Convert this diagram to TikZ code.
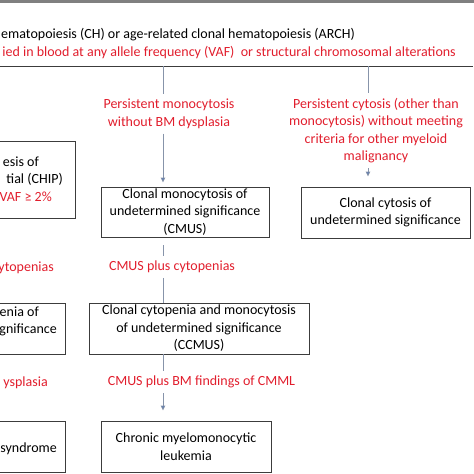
\documentclass[tikz,border=0pt]{standalone}
\usepackage{fontspec}
\setmainfont{Carlito}
\usetikzlibrary{arrows.meta}
\definecolor{redtxt}{RGB}{225,30,45}
\definecolor{boxline}{RGB}{60,60,60}
\definecolor{connline}{RGB}{135,148,170}
\definecolor{arrowblue}{RGB}{70,110,180}
\definecolor{bandgray}{RGB}{128,128,128}
\begin{document}
\begin{tikzpicture}[x=1pt,y=-1pt, font=\fontsize{14}{17.5}\selectfont,
  box/.style={draw=boxline, line width=0.9pt, align=center, inner sep=0pt},
  redlbl/.style={text=redtxt, align=center, inner sep=0pt, outer sep=5pt},
  frag/.style={anchor=base east, inner sep=0pt},
  conn/.style={draw=connline, line width=0.9pt},
  arr/.style={conn, -{Triangle[width=4.5pt,length=5pt,fill=arrowblue]}}]
\useasboundingbox (0,0) rectangle (474,474);
\clip (0,0) rectangle (474,474);
\fill[bandgray] (0,0) rectangle (474,2.5);
% header texts
\node[frag] (t1) at (355,38) {ematopoiesis (CH) or age-related clonal hematopoiesis (ARCH)};
\node[frag, text=redtxt] (t2) at (456,56) {ied in blood at any allele frequency (VAF)\ \ or structural chromosomal alterations};
\coordinate (hl) at (0,66);
\coordinate (hr) at (473,66);
\draw[draw=boxline, line width=0.9pt] (hl) -- (hr);
\coordinate (v1) at (163,66);
\coordinate (v2) at (368,66);
% red labels
\node[redlbl] (l1) at (169,114) {Persistent monocytosis\\without BM dysplasia};
\node[redlbl] (l2) at (376,130.5) {Persistent cytosis (other than\\monocytosis) without meeting\\criteria for other myeloid\\malignancy};
\node[redlbl] (l3) at (172,267) {CMUS plus cytopenias};
\node[redlbl] (l4) at (201.5,382) {CMUS plus BM findings of CMML};
% boxes
\node[box, minimum width=168pt, minimum height=50pt] (cmus) at (185,212) {Clonal monocytosis of\\undetermined significance\\(CMUS)};
\node[box, minimum width=169pt, minimum height=51pt] (ccs) at (385.5,212.5) {Clonal cytosis of\\undetermined significance};
\node[box, minimum width=220pt, minimum height=51pt] (ccmus) at (199,328.5) {Clonal cytopenia and monocytosis\\of undetermined significance\\(CCMUS)};
\node[box, minimum width=170pt, minimum height=51pt] (cmml) at (186,446.5) {Chronic myelomonocytic\\leukemia};
% left (cut-off) boxes
\node[box, anchor=east, minimum width=200pt, minimum height=77pt] (chip) at (76,179.5) {};
\node[box, anchor=east, minimum width=200pt, minimum height=51pt] (ccus) at (66,328.5) {};
\node[box, anchor=east, minimum width=200pt, minimum height=51pt] (mds) at (66,446.5) {};
\node[frag] (c1) at (39,166) {esis of};
\node[frag] (c2) at (63,183) {tial (CHIP)};
\node[frag, text=redtxt] (c3) at (52,201) {VAF ≥ 2\%};
\node[frag] (u1) at (39,316) {enia of};
\node[frag] (u2) at (57,333) {gnificance};
\node[frag] (m1) at (57,452) {syndrome};
\node[frag, text=redtxt] (r1) at (54,271) {ytopenias};
\node[frag, text=redtxt] (r2) at (48,386) {ysplasia};
% connectors
\draw[conn] (v1) -- (v1 |- l1.north);
\draw[arr, shorten >=4pt] (v1 |- l1.south) -- (v1 |- cmus.north);
\draw[conn] (v2) -- (v2 |- l2.north);
\draw[arr, shorten >=10pt] (v2 |- l2.south) -- (v2 |- ccs.north);
\draw[conn, shorten <=8pt] (v1 |- cmus.south) -- (v1 |- l3.north);
\draw[conn] (v1 |- l3.south) -- (v1 |- ccmus.north);
\draw[conn] (v1 |- ccmus.south) -- (v1 |- l4.north);
\draw[arr, shorten >=10pt] (v1 |- l4.south) -- (v1 |- cmml.north);
\end{tikzpicture}
\end{document}
